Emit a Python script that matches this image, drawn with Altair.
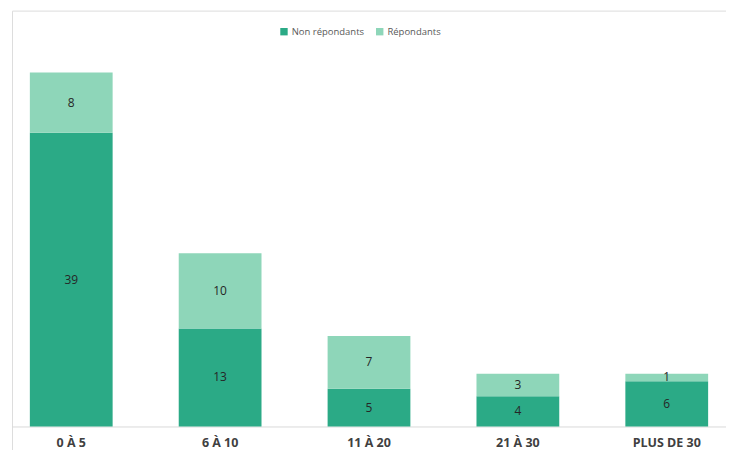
import altair as alt
import pandas as pd

categories = ["0 À 5", "6 À 10", "11 À 20", "21 À 30", "PLUS DE 30"]
non_repondants = [39, 13, 5, 4, 6]
repondants = [8, 10, 7, 3, 1]
series = ["Non répondants", "Répondants"]
colors = ["#2BAA86", "#8ED6B9"]

rows = []
for c, a, b in zip(categories, non_repondants, repondants):
    rows.append({"cat": c, "serie": series[0], "val": a, "ord": 0})
    rows.append({"cat": c, "serie": series[1], "val": b, "ord": 1})
df = pd.DataFrame(rows)

xenc = alt.X("cat:N", sort=categories, title=None,
             scale=alt.Scale(paddingInner=0.444, paddingOuter=0.12),
             axis=alt.Axis(labelAngle=0, labelFont="Open Sans", labelFontWeight="bold",
                           labelFontSize=12.5, labelColor="#404040", labelPadding=10,
                           ticks=False, domainColor="#D9D9D9", domainWidth=1,
                           offset=-33, grid=False))
yscale = alt.Scale(domain=[-4.37, 55.21], nice=False, zero=False)

base = alt.Chart(df)

bars = base.mark_bar().encode(
    x=xenc,
    y=alt.Y("val:Q", stack="zero", scale=yscale, axis=None),
    color=alt.Color("serie:N", sort=series,
                    scale=alt.Scale(domain=series, range=colors),
                    legend=alt.Legend(title=None, orient="none", direction="horizontal",
                                      legendX=268, legendY=16, symbolType="square",
                                      symbolSize=55, symbolStrokeWidth=0,
                                      labelFont="Open Sans", labelFontSize=9.5,
                                      labelColor="#595959", columnPadding=10,
                                      symbolOffset=0, labelOffset=3)),
    order=alt.Order("ord:Q", sort="ascending"),
)

labels = base.transform_stack(
    stack="val", groupby=["cat"], as_=["v0", "v1"],
    sort=[alt.SortField("ord", order="ascending")]
).transform_calculate(
    mid="(datum.v0 + datum.v1) / 2"
).mark_text(font="Open Sans", fontSize=12, color="#262626").encode(
    x=alt.X("cat:N", sort=categories),
    y=alt.Y("mid:Q", scale=yscale),
    text="val:Q",
)

chart = alt.layer(bars, labels).properties(
    width=716, height=450,
    autosize=alt.AutoSizeParams(type="none"),
    padding={"left": 4, "top": 2, "right": 0, "bottom": 0},
).configure_view(stroke="#BFBFBF", strokeWidth=1.5).configure(background="white")

chart.save("out.html", embed_options={"renderer": "svg", "actions": False})
